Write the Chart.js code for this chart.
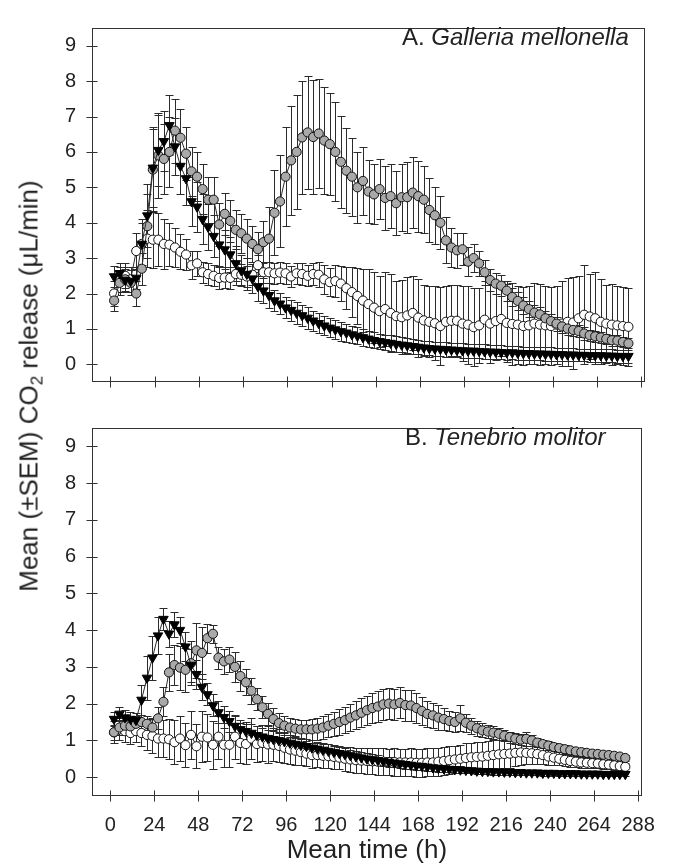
<!DOCTYPE html>
<html>
<head>
<meta charset="utf-8">
<script src="https://cdn.jsdelivr.net/npm/chart.js@4.4.1/dist/chart.umd.min.js"></script>
<style>
  body { margin: 0; background: #fff; }
  #wrap { position: relative; width: 673px; height: 866px; font-family: 'Liberation Sans', Arial, sans-serif; color: #222; }
  canvas { position: absolute; left: 0; }
  #grafA { top: 0; }
  #grafB { top: 400px; }
  .lbl { position: absolute; font-size: 24px; line-height: 24px; white-space: nowrap; }
  #ytitle { position: absolute; left: 29px; top: 386px; transform: translate(-50%, -50%) rotate(-90deg); font-size: 26px; white-space: nowrap; }
  #ytitle sub { font-size: 17px; vertical-align: -5px; line-height: 0; }
</style>
</head>
<body>
<div id="wrap">
  <canvas id="grafA" width="673" height="410"></canvas>
  <canvas id="grafB" width="673" height="466"></canvas>
  <div class="lbl" style="left:402px; top:25px;">A. <i>Galleria mellonella</i></div>
  <div class="lbl" style="left:405px; top:425px;">B. <i>Tenebrio molitor</i></div>
  <div id="ytitle">Mean (±SEM) CO<sub>2</sub> release (μL/min)</div>
</div>
<script>
// mean time of each reading (h)
const times = [
  2, 5, 8, 11, 14, 17, 20, 23, 26, 29,
  32, 35, 38, 41, 44, 47, 50, 53, 56, 59,
  62, 65, 68, 71, 74, 77, 80, 83, 86, 89,
  92, 95, 98, 101, 104, 107, 110, 113, 116, 119,
  122, 125, 128, 131, 134, 137, 140, 143, 146, 149,
  152, 155, 158, 161, 164, 167, 170, 173, 176, 179,
  182, 185, 188, 191, 194, 197, 200, 203, 206, 209,
  212, 215, 218, 221, 224, 227, 230, 233, 236, 239,
  242, 245, 248, 251, 254, 257, 260, 263, 266, 269,
  272, 275, 278, 281
];
const xTicks = [0, 24, 48, 72, 96, 120, 144, 168, 192, 216, 240, 264, 288];
const yTicks = [0, 1, 2, 3, 4, 5, 6, 7, 8, 9];

// A. Galleria mellonella
const galGrey = [
  1.8, 2.3, 2.4, 2.3, 2.0, 2.7, 3.9, 5.5, 5.9, 5.8,
  6.0, 6.6, 6.4, 5.95, 5.45, 5.3, 4.95, 4.65, 4.65, 3.95,
  4.25, 4.05, 3.8, 3.7, 3.55, 3.4, 3.25, 3.45, 3.55, 4.28,
  4.6, 5.3, 5.76, 6.0, 6.41, 6.55, 6.42, 6.52, 6.32, 6.22,
  6.0, 5.72, 5.47, 5.3, 5.0, 5.18, 4.88, 4.8, 4.95, 4.7,
  4.75, 4.55, 4.72, 4.72, 4.85, 4.75, 4.65, 4.36, 4.21, 4.0,
  3.5, 3.3, 3.22, 3.25, 2.9, 3.0, 2.85, 2.6, 2.38, 2.28,
  2.22, 2.08, 1.9, 1.79, 1.66, 1.56, 1.46, 1.41, 1.3, 1.22,
  1.15, 1.07, 1.01, 0.97, 0.94, 0.87, 0.82, 0.79, 0.76, 0.72,
  0.68, 0.67, 0.63, 0.59
];
const galGreySem = [
  0.3, 0.35, 0.35, 0.35, 0.35, 0.45, 0.9, 1.2, 1.2, 1.0,
  1.0, 0.9, 0.8, 0.75, 0.7, 0.7, 0.7, 0.65, 0.65, 0.6,
  0.6, 0.6, 0.55, 0.55, 0.55, 0.5, 0.5, 0.6, 0.9, 1.2,
  1.3, 1.4, 1.55, 1.6, 1.6, 1.6, 1.6, 1.55, 1.5, 1.45,
  1.4, 1.3, 1.2, 1.1, 1.0, 0.95, 0.9, 0.85, 0.85, 0.9,
  0.9, 0.9, 0.95, 1.0, 1.0, 1.0, 0.95, 0.9, 0.8, 0.75,
  0.65, 0.55, 0.5, 0.45, 0.4, 0.4, 0.35, 0.35, 0.3, 0.3,
  0.3, 0.28, 0.26, 0.25, 0.24, 0.23, 0.22, 0.21, 0.2, 0.2,
  0.2, 0.19, 0.18, 0.18, 0.17, 0.17, 0.16, 0.16, 0.15, 0.15,
  0.15, 0.15, 0.14, 0.14
];
const galWhite = [
  2.0, 2.4, 2.5, 2.4, 3.2, 3.4, 3.55, 3.52, 3.52, 3.4,
  3.38, 3.3, 3.18, 3.1, 2.8, 2.85, 2.6, 2.55, 2.5, 2.44,
  2.45, 2.44, 2.55, 2.53, 2.48, 2.53, 2.8, 2.6, 2.6, 2.57,
  2.59, 2.57, 2.48, 2.57, 2.55, 2.5, 2.55, 2.53, 2.4, 2.32,
  2.35, 2.28, 2.15, 2.04, 1.93, 1.8, 1.7, 1.6, 1.5, 1.56,
  1.45, 1.36, 1.33, 1.38, 1.45, 1.32, 1.24, 1.2, 1.16, 1.08,
  1.2, 1.23, 1.23, 1.15, 1.12, 1.05, 1.1, 1.26, 1.15, 1.22,
  1.28, 1.17, 1.14, 1.12, 1.08, 1.1, 1.15, 1.12, 1.1, 1.08,
  1.12, 1.15, 1.2, 1.18, 1.3, 1.4, 1.35, 1.3, 1.2, 1.15,
  1.12, 1.1, 1.08, 1.06
];
const galWhiteSem = [
  0.35, 0.35, 0.35, 0.35, 0.5, 0.7, 0.8, 0.8, 0.75, 0.7,
  0.6, 0.55, 0.5, 0.45, 0.4, 0.35, 0.3, 0.3, 0.3, 0.3,
  0.3, 0.3, 0.3, 0.3, 0.3, 0.3, 0.3, 0.3, 0.3, 0.3,
  0.3, 0.3, 0.3, 0.3, 0.3, 0.3, 0.3, 0.35, 0.4, 0.4,
  0.45, 0.5, 0.6, 0.7, 0.8, 0.9, 1.0, 1.0, 1.0, 1.05,
  1.1, 1.0, 1.05, 1.1, 1.05, 1.1, 1.0, 1.0, 1.05, 1.1,
  1.0, 1.0, 1.0, 1.05, 1.1, 1.1, 1.05, 1.1, 1.1, 1.1,
  1.05, 1.1, 1.15, 1.1, 1.1, 1.1, 1.15, 1.15, 1.1, 1.1,
  1.1, 1.2, 1.25, 1.3, 1.2, 1.4, 1.2, 1.3, 1.2, 1.1,
  1.15, 1.1, 1.1, 1.1
];
const galBlack = [
  2.48, 2.57, 2.38, 2.35, 2.44, 3.4, 4.2, 5.55, 6.05, 6.3,
  6.75, 6.15, 5.6, 5.25, 4.6, 4.45, 4.1, 3.88, 3.62, 3.38,
  3.24, 3.1, 2.85, 2.65, 2.55, 2.42, 2.2, 2.08, 1.95, 1.8,
  1.71, 1.6, 1.53, 1.45, 1.38, 1.31, 1.23, 1.16, 1.09, 1.03,
  0.98, 0.93, 0.89, 0.84, 0.8, 0.76, 0.72, 0.68, 0.65, 0.62,
  0.6, 0.57, 0.55, 0.53, 0.51, 0.49, 0.47, 0.45, 0.44, 0.43,
  0.42, 0.41, 0.4, 0.39, 0.38, 0.38, 0.37, 0.36, 0.35, 0.35,
  0.34, 0.33, 0.33, 0.32, 0.31, 0.31, 0.3, 0.3, 0.29, 0.29,
  0.28, 0.28, 0.27, 0.27, 0.26, 0.26, 0.25, 0.25, 0.25, 0.24,
  0.24, 0.23, 0.23, 0.23
];
const galBlackSem = [
  0.3, 0.3, 0.3, 0.3, 0.3, 0.6, 0.9, 1.1, 1.0, 0.85,
  0.85, 0.8, 0.8, 0.75, 0.7, 0.7, 0.7, 0.65, 0.6, 0.6,
  0.55, 0.5, 0.5, 0.45, 0.45, 0.4, 0.4, 0.35, 0.35, 0.3,
  0.3, 0.3, 0.3, 0.3, 0.3, 0.3, 0.28, 0.28, 0.27, 0.27,
  0.26, 0.26, 0.25, 0.25, 0.24, 0.24, 0.23, 0.23, 0.22, 0.22,
  0.22, 0.22, 0.21, 0.21, 0.21, 0.2, 0.2, 0.2, 0.2, 0.2,
  0.2, 0.2, 0.2, 0.2, 0.2, 0.2, 0.2, 0.2, 0.2, 0.2,
  0.2, 0.2, 0.19, 0.19, 0.19, 0.19, 0.19, 0.19, 0.19, 0.19,
  0.18, 0.18, 0.18, 0.18, 0.18, 0.18, 0.18, 0.18, 0.18, 0.18,
  0.18, 0.18, 0.18, 0.18
];

// B. Tenebrio molitor
const tenGrey = [
  1.22, 1.35, 1.4, 1.38, 1.45, 1.5, 1.45, 1.35, 1.6, 2.05,
  2.85, 3.05, 2.98, 2.92, 3.1, 3.45, 3.38, 3.78, 3.9, 3.25,
  3.15, 3.2, 3.0, 2.75, 2.58, 2.35, 2.12, 1.9, 1.72, 1.58,
  1.47, 1.4, 1.35, 1.32, 1.3, 1.3, 1.3, 1.32, 1.35, 1.4,
  1.45, 1.5, 1.55, 1.62, 1.68, 1.75, 1.82, 1.88, 1.92, 1.98,
  2.0, 1.98, 2.02, 1.96, 1.95, 1.88, 1.8, 1.72, 1.68, 1.62,
  1.58, 1.53, 1.5, 1.6, 1.48, 1.4, 1.33, 1.27, 1.24, 1.21,
  1.18, 1.13, 1.09, 1.05, 1.02, 1.04, 1.0, 0.94, 0.9, 0.86,
  0.82, 0.79, 0.76, 0.73, 0.7, 0.68, 0.66, 0.64, 0.63, 0.61,
  0.6, 0.58, 0.56, 0.52
];
const tenGreySem = [
  0.2, 0.2, 0.2, 0.2, 0.2, 0.2, 0.2, 0.25, 0.3, 0.4,
  0.5, 0.55, 0.6, 0.6, 0.6, 0.75, 0.7, 0.4, 0.25, 0.3,
  0.35, 0.35, 0.4, 0.4, 0.35, 0.35, 0.3, 0.3, 0.3, 0.3,
  0.28, 0.26, 0.25, 0.25, 0.25, 0.26, 0.28, 0.3, 0.3, 0.32,
  0.33, 0.35, 0.36, 0.37, 0.38, 0.39, 0.4, 0.4, 0.41, 0.42,
  0.42, 0.42, 0.42, 0.42, 0.42, 0.4, 0.38, 0.36, 0.35, 0.33,
  0.3, 0.28, 0.26, 0.35, 0.25, 0.22, 0.2, 0.19, 0.18, 0.17,
  0.17, 0.16, 0.15, 0.15, 0.14, 0.2, 0.14, 0.13, 0.12, 0.12,
  0.12, 0.11, 0.11, 0.1, 0.1, 0.1, 0.1, 0.09, 0.09, 0.09,
  0.09, 0.09, 0.08, 0.08
];
const tenWhite = [
  1.22, 1.3, 1.25, 1.2, 1.25, 1.2, 1.15, 1.12, 1.05, 1.05,
  1.03, 0.95, 1.05, 0.87, 1.15, 0.84, 1.1, 1.08, 0.88, 1.1,
  0.88, 0.88, 1.1, 0.93, 0.9, 1.05, 0.9, 0.93, 0.89, 0.88,
  0.85, 0.8, 0.75, 0.72, 0.68, 0.64, 0.6, 0.6, 0.58, 0.57,
  0.55, 0.53, 0.5, 0.48, 0.46, 0.45, 0.44, 0.43, 0.42, 0.42,
  0.41, 0.41, 0.4, 0.4, 0.4, 0.39, 0.39, 0.4, 0.4, 0.42,
  0.44, 0.46, 0.48, 0.5, 0.52, 0.54, 0.55, 0.56, 0.58, 0.6,
  0.62, 0.63, 0.64, 0.66, 0.67, 0.66, 0.65, 0.63, 0.6, 0.56,
  0.53, 0.5, 0.47, 0.44, 0.42, 0.4, 0.39, 0.38, 0.37, 0.35,
  0.34, 0.32, 0.3, 0.28
];
const tenWhiteSem = [
  0.3, 0.3, 0.3, 0.3, 0.3, 0.35, 0.4, 0.45, 0.5, 0.5,
  0.55, 0.6, 0.6, 0.6, 0.65, 0.6, 0.7, 0.65, 0.65, 0.6,
  0.6, 0.6, 0.6, 0.55, 0.55, 0.55, 0.5, 0.5, 0.5, 0.45,
  0.45, 0.42, 0.4, 0.38, 0.36, 0.35, 0.34, 0.33, 0.32, 0.32,
  0.32, 0.32, 0.32, 0.33, 0.34, 0.34, 0.35, 0.35, 0.36, 0.36,
  0.36, 0.37, 0.37, 0.37, 0.38, 0.38, 0.38, 0.38, 0.38, 0.38,
  0.38, 0.38, 0.38, 0.38, 0.4, 0.4, 0.4, 0.4, 0.4, 0.4,
  0.4, 0.38, 0.38, 0.36, 0.34, 0.3, 0.28, 0.26, 0.24, 0.22,
  0.2, 0.18, 0.17, 0.16, 0.15, 0.14, 0.14, 0.13, 0.13, 0.12,
  0.12, 0.12, 0.11, 0.11
];
const tenBlack = [
  1.58, 1.72, 1.62, 1.58, 1.55, 2.1, 2.7, 3.25, 3.85, 4.3,
  3.9, 4.15, 4.0, 3.55, 3.05, 2.8, 2.45, 2.25, 1.95, 1.76,
  1.63, 1.52, 1.39, 1.3, 1.25, 1.2, 1.14, 1.1, 1.06, 1.03,
  1.0, 0.97, 0.93, 0.9, 0.87, 0.84, 0.8, 0.77, 0.74, 0.71,
  0.68, 0.65, 0.62, 0.59, 0.56, 0.53, 0.5, 0.48, 0.46, 0.43,
  0.41, 0.39, 0.37, 0.35, 0.33, 0.31, 0.3, 0.28, 0.26, 0.25,
  0.23, 0.22, 0.21, 0.2, 0.19, 0.18, 0.17, 0.16, 0.16, 0.15,
  0.15, 0.14, 0.14, 0.13, 0.13, 0.12, 0.12, 0.12, 0.11, 0.11,
  0.11, 0.1, 0.1, 0.1, 0.1, 0.09, 0.09, 0.09, 0.09, 0.08,
  0.08, 0.08, 0.08, 0.08
];
const tenBlackSem = [
  0.2, 0.2, 0.2, 0.2, 0.2, 0.4, 0.6, 0.6, 0.5, 0.3,
  0.35, 0.35, 0.35, 0.4, 0.45, 0.4, 0.35, 0.3, 0.3, 0.3,
  0.3, 0.28, 0.27, 0.26, 0.25, 0.25, 0.24, 0.24, 0.23, 0.23,
  0.22, 0.22, 0.21, 0.21, 0.2, 0.2, 0.2, 0.19, 0.19, 0.18,
  0.18, 0.17, 0.17, 0.16, 0.16, 0.15, 0.15, 0.14, 0.14, 0.13,
  0.13, 0.12, 0.12, 0.12, 0.11, 0.11, 0.1, 0.1, 0.1, 0.1,
  0.09, 0.09, 0.09, 0.09, 0.09, 0.08, 0.08, 0.08, 0.08, 0.08,
  0.08, 0.07, 0.07, 0.07, 0.07, 0.07, 0.07, 0.07, 0.07, 0.07,
  0.06, 0.06, 0.06, 0.06, 0.06, 0.06, 0.06, 0.06, 0.06, 0.06,
  0.06, 0.06, 0.06, 0.06
];

const family = "'Liberation Sans', Arial, sans-serif";
const ink = '#2b2b2b';

// error bars under the markers, plus the framed box with crossing ticks
const frame = {
    id: 'frame',
    beforeDatasetsDraw(chart) {
        const { ctx, chartArea: a, scales: { x, y } } = chart;
        ctx.save();
        ctx.beginPath();
        ctx.rect(a.left, a.top, a.right - a.left, a.bottom - a.top);
        ctx.clip();
        ctx.strokeStyle = ink;
        ctx.lineWidth = 1;
        ctx.beginPath();
        chart.data.datasets.forEach(ds => {
            ds.data.forEach((p, i) => {
                const s = ds.sem[i];
                const px = Math.round(x.getPixelForValue(p.x)) + 0.5;
                const hi = Math.round(y.getPixelForValue(p.y + s)) + 0.5;
                const lo = Math.round(y.getPixelForValue(p.y - s)) + 0.5;
                ctx.moveTo(px, hi); ctx.lineTo(px, lo);
                ctx.moveTo(px - 4, hi); ctx.lineTo(px + 4, hi);
                ctx.moveTo(px - 4, lo); ctx.lineTo(px + 4, lo);
            });
        });
        ctx.stroke();
        ctx.restore();
    },
    afterDraw(chart) {
        const { ctx, chartArea: a, scales: { x, y } } = chart;
        const L = Math.round(a.left) + 0.5, R = Math.round(a.right) - 0.5;
        const T = Math.round(a.top) + 0.5, B = Math.round(a.bottom) - 0.5;
        ctx.save();
        ctx.strokeStyle = '#333';
        ctx.lineWidth = 1;
        ctx.strokeRect(L, T, R - L, B - T);
        ctx.beginPath();
        yTicks.forEach(v => {
            const py = Math.round(y.getPixelForValue(v)) + 0.5;
            ctx.moveTo(L - 6, py); ctx.lineTo(L + 5, py);
        });
        xTicks.forEach(v => {
            const px = Math.round(x.getPixelForValue(v)) + 0.5;
            ctx.moveTo(px, B - 5); ctx.lineTo(px, B + 6);
        });
        ctx.stroke();
        ctx.restore();
    }
};

function series(vals, sem, style) {
    return Object.assign({
        data: times.map((t, i) => ({ x: t, y: vals[i] })),
        sem: sem,
        showLine: true,
        borderColor: ink,
        borderWidth: 1,
        pointBorderColor: '#111',
        pointBorderWidth: 1,
        pointRadius: 4.6,
        clip: false
    }, style);
}

function makeChart(id, grey, greySem, white, whiteSem, black, blackSem, bottom) {
    return new Chart(document.getElementById(id), {
        type: 'scatter',
        data: {
            datasets: [
                series(black, blackSem, { order: 0, pointStyle: 'triangle', rotation: 180, pointRadius: 5.5, pointBackgroundColor: '#000', pointBorderColor: '#000' }),
                series(grey, greySem, { order: 1, pointStyle: 'circle', pointBackgroundColor: '#a9a9a9' }),
                series(white, whiteSem, { order: 2, pointStyle: 'circle', pointBackgroundColor: '#fff' })
            ]
        },
        options: {
            responsive: false,
            animation: false,
            events: [],
            layout: { padding: { top: 8, right: 28, left: 0, bottom: 0 } },
            plugins: { legend: { display: false }, tooltip: { enabled: false } },
            scales: {
                x: {
                    type: 'linear', min: -10, max: 290,
                    afterBuildTicks: s => { s.ticks = xTicks.map(v => ({ value: v })); },
                    afterFit: s => { s.height = bottom ? 70.5 : 15; },
                    grid: { display: false, drawTicks: false },
                    border: { display: false },
                    ticks: { display: bottom, autoSkip: false, maxRotation: 0, padding: 18, color: '#222', font: { family, size: 20 } },
                    title: { display: bottom, text: 'Mean time (h)', color: '#222', font: { family, size: 26 }, padding: { top: 0, bottom: 0 } }
                },
                y: {
                    min: -0.5, max: 9.5,
                    afterBuildTicks: s => { s.ticks = yTicks.map(v => ({ value: v })); },
                    afterFit: s => { s.width = 92; },
                    grid: { display: false, drawTicks: false },
                    border: { display: false },
                    ticks: { padding: 16, color: '#222', font: { family, size: 20 } }
                }
            }
        },
        plugins: [frame]
    });
}

makeChart('grafA', galGrey, galGreySem, galWhite, galWhiteSem, galBlack, galBlackSem, false);
makeChart('grafB', tenGrey, tenGreySem, tenWhite, tenWhiteSem, tenBlack, tenBlackSem, true);
</script>
</body>
</html>
